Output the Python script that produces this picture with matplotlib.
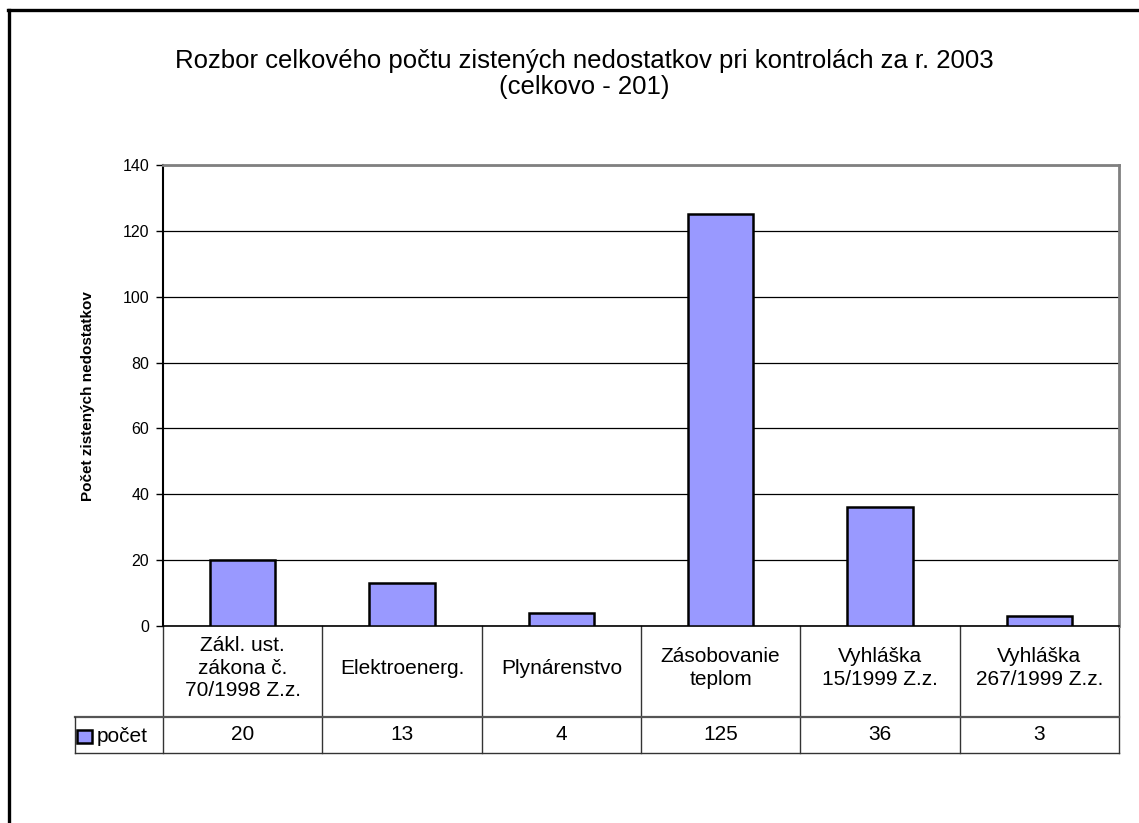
import matplotlib
matplotlib.use("Agg")
import matplotlib.pyplot as plt
from matplotlib.patches import Rectangle
from matplotlib.lines import Line2D
import matplotlib.transforms as mtransforms

plt.rcParams['font.family'] = ['Liberation Sans', 'DejaVu Sans']

categories = ["Zákl. ust.\nzákona č.\n70/1998 Z.z.", "Elektroenerg.", "Plynárenstvo",
              "Zásobovanie\nteplom", "Vyhláška\n15/1999 Z.z.", "Vyhláška\n267/1999 Z.z."]
values = [20, 13, 4, 125, 36, 3]
series_name = "počet"
yticks = [0, 20, 40, 60, 80, 100, 120, 140]
title = "Rozbor celkového počtu zistených nedostatkov pri kontrolách za r. 2003\n(celkovo - 201)"
ylabel = "Počet zistených nedostatkov"

W, H = 1139, 823
fig = plt.figure(figsize=(W / 100, H / 100), dpi=100)
fig.patch.set_facecolor("white")

def fx(px):
    return px / W

def fy(py):
    return 1 - py / H

# outer frame (extends beyond image on right/bottom)
fig.add_artist(Line2D([fx(9), fx(9)], [fy(10), fy(830)], color="black", lw=2.4))
fig.add_artist(Line2D([fx(8), fx(1145)], [fy(10), fy(10)], color="black", lw=2.4))

L, R, T, B = 163, 1119, 165, 626
ax = fig.add_axes([fx(L), fy(B), (R - L) / W, (B - T) / H])
n = len(categories)
xs = list(range(n))
ax.bar(xs, values, width=0.41, color="#9999FF", edgecolor="black", linewidth=1.8, zorder=3)
ax.set_xlim(-0.5, n - 0.5)
ax.set_ylim(0, 140)
ax.set_yticks(yticks)
ax.set_yticklabels([str(v) for v in yticks], fontsize=11.5)
ax.yaxis.grid(True, color="black", linewidth=0.9, zorder=0)
ax.set_axisbelow(True)
ax.set_xticks([])
ax.tick_params(axis="y", direction="out", length=5, width=1, pad=5)
ax.spines["left"].set_color("black")
ax.spines["left"].set_linewidth(1.5)
ax.spines["bottom"].set_color("black")
ax.spines["bottom"].set_linewidth(1.2)
ax.spines["top"].set_color("#808080")
ax.spines["top"].set_linewidth(2)
ax.spines["right"].set_color("#808080")
ax.spines["right"].set_linewidth(2)

# data table
trans = mtransforms.blended_transform_factory(ax.transData, ax.transAxes)
ph = B - T
row1 = -(717 - B) / ph
row2 = -(753 - B) / ph
label_y = -(668 - B) / ph
xleft = -0.5 + (75 - L) * n / (R - L)
lc = "#333333"
for i in range(n + 1):
    xb = i - 0.5
    ax.add_line(Line2D([xb, xb], [0, row2], transform=trans, color=lc, lw=1.0, clip_on=False))
ax.add_line(Line2D([xleft, n - 0.5], [row1, row1], transform=trans, color="#555555", lw=1.6, clip_on=False))
ax.add_line(Line2D([xleft, n - 0.5], [row2, row2], transform=trans, color=lc, lw=1.0, clip_on=False))
ax.add_line(Line2D([xleft, xleft], [row1, row2], transform=trans, color=lc, lw=1.0, clip_on=False))

for i, (c, v) in enumerate(zip(categories, values)):
    ax.text(i, label_y, c, transform=trans, ha="center", va="center", fontsize=15,
            linespacing=1.22, clip_on=False)
    ax.text(i, (row1 + row2) / 2, str(v), transform=trans, ha="center", va="center",
            fontsize=15, clip_on=False)

# legend key in table
fig.add_artist(Rectangle((fx(77), fy(743)), 15 / W, 13 / H, facecolor="#9999FF",
                         edgecolor="black", lw=1.8))
fig.text(fx(97), fy(737), series_name, ha="left", va="center", fontsize=15)

# title and y label
fig.text(fx(584), fy(74), title, ha="center", va="center", fontsize=18.5, linespacing=1.12)
fig.text(fx(88), fy(396), ylabel, rotation=90, ha="center", va="center",
         fontsize=11, fontweight="bold")

fig.savefig("out.png", dpi=100, facecolor="white")
